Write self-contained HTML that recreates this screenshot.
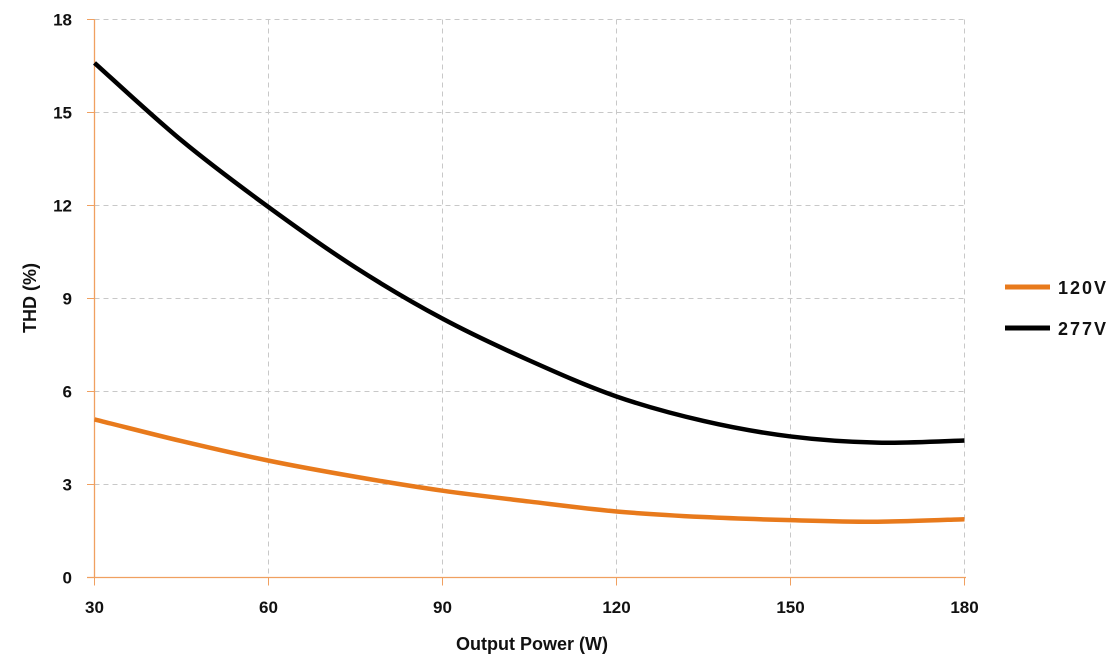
<!DOCTYPE html>
<html><head><meta charset="utf-8"><style>
body{margin:0;background:#fff;font-family:"Liberation Sans",sans-serif}
svg text{font-family:"Liberation Sans",sans-serif;font-weight:bold;fill:#111}
</style></head><body>
<svg id="chart" width="1117" height="667">
<g id="grid"></g><g id="axes"></g><g id="series"></g>
<text x="532" y="650" text-anchor="middle" font-size="18">Output Power (W)</text>
<text transform="translate(36,298) rotate(-90)" text-anchor="middle" font-size="18">THD (%)</text>
<g>
<line x1="1005" y1="287" x2="1050" y2="287" stroke="#e87a1c" stroke-width="5"/>
<text x="1058" y="294" font-size="18" textLength="48">120V</text>
<line x1="1005" y1="328" x2="1050" y2="328" stroke="#000" stroke-width="5"/>
<text x="1058" y="335" font-size="18" textLength="48">277V</text>
</g>
</svg>
<script>
const xVals=[30,45,60,75,90,105,120,135,150,165,180];
const s120=[5.1,4.4,3.77,3.25,2.8,2.45,2.13,1.95,1.85,1.8,1.88];
const s277=[16.6,14.1,11.95,10.0,8.35,7.0,5.84,5.05,4.55,4.35,4.42];
const xTicks=[30,60,90,120,150,180];
const yTicks=[0,3,6,9,12,15,18];
const NS="http://www.w3.org/2000/svg";
const X=v=>94.5+(v-30)*(870/150);
const Y=v=>577.5-v*31;
function mk(t,a,p){const e=document.createElementNS(NS,t);for(const k in a)e.setAttribute(k,a[k]);p.appendChild(e);return e;}
const grid=document.getElementById('grid'),axes=document.getElementById('axes'),ser=document.getElementById('series');
yTicks.forEach(v=>{
 if(v>0){const l=mk('line',{x1:94.5,x2:966,y1:Y(v),y2:Y(v),stroke:'#c8c8c8','stroke-dasharray':'5,4'},grid);
 
 }
 mk('line',{x1:87,x2:94.5,y1:Y(v),y2:Y(v),stroke:'#f0a060'},axes);
 const t=mk('text',{x:72,y:Y(v)+6,'text-anchor':'end','font-size':17},axes);t.textContent=v;
 
 
});
xTicks.forEach(v=>{
 if(v>30){const l=mk('line',{x1:X(v),x2:X(v),y1:Y(18),y2:Y(0),stroke:'#c8c8c8','stroke-dasharray':'5,4'},grid);
 
 }
 mk('line',{x1:X(v),x2:X(v),y1:Y(0),y2:Y(0)+8,stroke:'#f0a060'},axes);
 const t=mk('text',{x:X(v),y:613,'text-anchor':'middle','font-size':17},axes);t.textContent=v;
 
 
});
const ya=mk('line',{x1:94.5,x2:94.5,y1:Y(18),y2:Y(0),stroke:'#f0a060','stroke-width':1.3},axes);


const xa=mk('line',{x1:87,x2:966,y1:Y(0),y2:Y(0),stroke:'#f0a060','stroke-width':1.3},axes);


function path(vals){
 const p=xVals.map((x,i)=>[X(x),Y(vals[i])]);
 let d='M'+p[0][0]+','+p[0][1];
 for(let i=0;i<p.length-1;i++){
  const p0=p[i-1]||p[i],p1=p[i],p2=p[i+1],p3=p[i+2]||p2;
  d+=' C'+(p1[0]+(p2[0]-p0[0])/6)+','+(p1[1]+(p2[1]-p0[1])/6)+' '+(p2[0]-(p3[0]-p1[0])/6)+','+(p2[1]-(p3[1]-p1[1])/6)+' '+p2[0]+','+p2[1];
 }
 return d;
}
const a=mk('path',{d:path(s120),fill:'none',stroke:'#e87a1c','stroke-width':4.5},ser);


const b=mk('path',{d:path(s277),fill:'none',stroke:'#000','stroke-width':4.5},ser);


</script>
</body></html>
